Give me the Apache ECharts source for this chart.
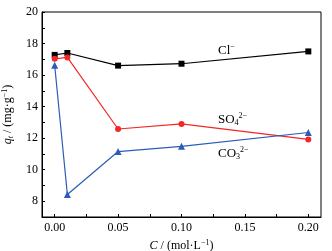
<!DOCTYPE html>
<html>
<head>
<meta charset="utf-8">
<script src="https://cdn.jsdelivr.net/npm/echarts@6/dist/echarts.min.js"></script>
<style>
  html, body { margin: 0; padding: 0; background: #fff; }
  #chart { width: 332px; height: 251px; }
</style>
</head>
<body>
<div id="chart"></div>
<script>
// concentrations, mol/L
var concentrations = [0, 0.01, 0.05, 0.1, 0.2];
// adsorption capacity q_t, mg/g
var clValues = [17.28, 17.4, 16.6, 16.72, 17.5];
var so4Values = [17.03, 17.12, 12.58, 12.9, 11.92];
var co3Values = [16.62, 8.43, 11.15, 11.48, 12.36];
var xLabelStep = 0.05;
var xMinorTicks = [0, 0.025, 0.05, 0.075, 0.1, 0.125, 0.15, 0.175, 0.2];

function pairs(vals) {
  return concentrations.map(function (c, i) { return [c, vals[i]]; });
}

var serif = "Liberation Serif";
var chart = echarts.init(document.getElementById("chart"));

chart.setOption({
  animation: false,
  textStyle: { fontFamily: serif },
  grid: {
    left: 42, right: 11, top: 12, bottom: 34,
    containLabel: false, outerBoundsMode: "none",
    show: true, borderColor: "#000", borderWidth: 1
  },
  xAxis: {
    type: "value",
    min: -0.01,
    max: 0.21,
    interval: 0.005,
    splitLine: { show: false },
    axisLine: { onZero: false, lineStyle: { color: "#000" } },
    axisTick: { inside: true, length: 3, customValues: xMinorTicks, lineStyle: { color: "#000" } },
    axisLabel: {
      color: "#000", fontSize: 12, fontFamily: serif, margin: 5,
      showMinLabel: false, showMaxLabel: false,
      formatter: function (v) {
        var k = v / xLabelStep;
        if (v < -1e-9 || Math.abs(k - Math.round(k)) > 1e-6) return "";
        return (Math.round(k) * xLabelStep).toFixed(2);
      }
    },
    name: "{i|C} / (mol·L{sup|−1})",
    nameLocation: "middle",
    nameGap: 21,
    nameTextStyle: {
      color: "#000", fontSize: 12, fontFamily: serif,
      rich: {
        i: { fontStyle: "italic", fontSize: 12, fontFamily: serif, color: "#000" },
        sup: { fontSize: 8, fontFamily: serif, color: "#000", padding: [0, 0, 6, 0] }
      }
    }
  },
  yAxis: {
    type: "value",
    min: 7,
    max: 20,
    interval: 1,
    splitLine: { show: false },
    axisLine: { onZero: false, lineStyle: { color: "#000" } },
    axisTick: { inside: true, length: 3, lineStyle: { color: "#000" } },
    axisLabel: {
      color: "#000", fontSize: 12, fontFamily: serif, margin: 4,
      formatter: function (v) { return v % 2 === 0 ? String(v) : ""; }
    },
    name: "{i|q}{sub|t} / (mg·g{sup|−1})",
    nameLocation: "middle",
    nameRotate: 90,
    nameGap: 25,
    nameTextStyle: {
      color: "#000", fontSize: 12, fontFamily: serif,
      rich: {
        i: { fontStyle: "italic", fontSize: 12, fontFamily: serif, color: "#000" },
        sub: { fontStyle: "italic", fontSize: 8, fontFamily: serif, color: "#000", padding: [6, 0, 0, 0] },
        sup: { fontSize: 8, fontFamily: serif, color: "#000", padding: [0, 0, 6, 0] }
      }
    }
  },
  series: [
    {
      name: "Cl-", type: "line", data: pairs(clValues),
      symbol: "rect", symbolSize: 6,
      lineStyle: { color: "#000", width: 1.2 },
      itemStyle: { color: "#000" }
    },
    {
      name: "SO4", type: "line", data: pairs(so4Values),
      symbol: "circle", symbolSize: 6,
      lineStyle: { color: "#f02828", width: 1.2 },
      itemStyle: { color: "#f02828" }
    },
    {
      name: "CO3", type: "line", data: pairs(co3Values),
      symbol: "triangle", symbolSize: 7,
      lineStyle: { color: "#2a5cb8", width: 1.2 },
      itemStyle: { color: "#2a5cb8" }
    }
  ],
  graphic: [
    {
      type: "text", left: 218, top: 43,
      style: {
        text: "Cl{sup|−}", fill: "#000", font: "13px " + serif,
        rich: { sup: { fontSize: 8, fontFamily: serif, fill: "#000", padding: [0, 0, 7, 0] } }
      }
    },
    {
      type: "text", left: 218, top: 112,
      style: {
        text: "SO{sub|4}{sup|2−}", fill: "#000", font: "13px " + serif,
        rich: {
          sub: { fontSize: 8, fontFamily: serif, fill: "#000", padding: [7, 0, 0, 0] },
          sup: { fontSize: 8, fontFamily: serif, fill: "#000", padding: [0, 0, 7, 0] }
        }
      }
    },
    {
      type: "text", left: 218, top: 146,
      style: {
        text: "CO{sub|3}{sup|2−}", fill: "#000", font: "13px " + serif,
        rich: {
          sub: { fontSize: 8, fontFamily: serif, fill: "#000", padding: [7, 0, 0, 0] },
          sup: { fontSize: 8, fontFamily: serif, fill: "#000", padding: [0, 0, 7, 0] }
        }
      }
    }
  ]
});
</script>
</body>
</html>
